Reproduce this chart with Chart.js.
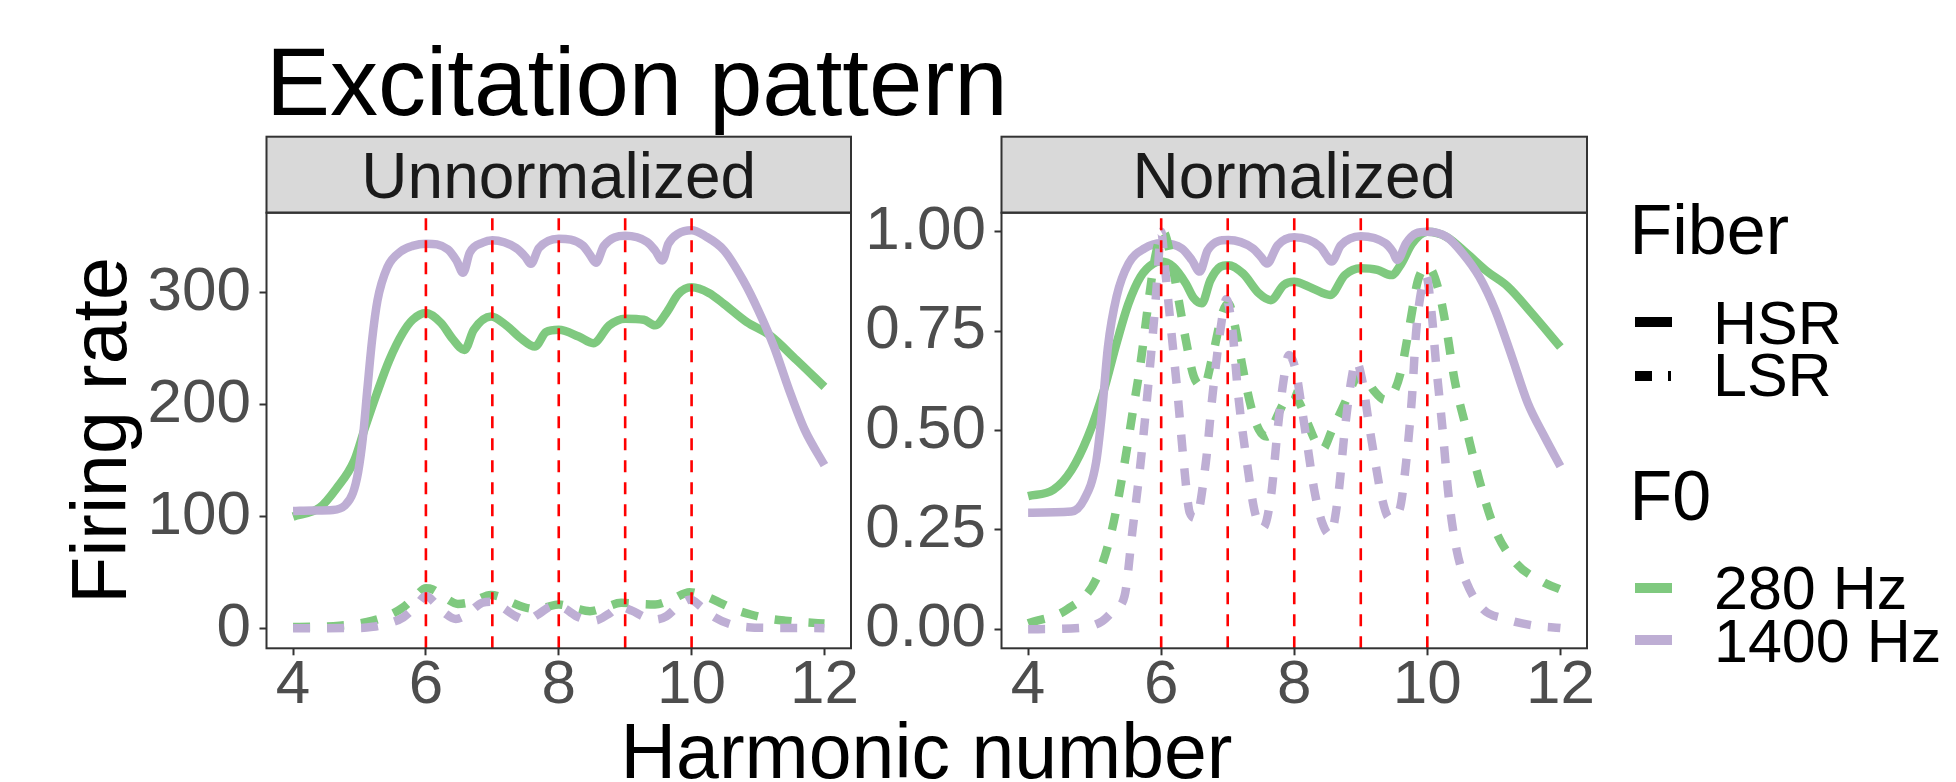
<!DOCTYPE html>
<html>
<head>
<meta charset="utf-8">
<script src="https://cdn.jsdelivr.net/npm/chart.js@4.4.1/dist/chart.umd.min.js"></script>
<style>
  body { margin: 0; background: #fff; }
  #wrap { position: relative; width: 1956px; height: 782px; overflow: hidden; font-family: "Liberation Sans", Arial, sans-serif; }
  canvas { position: absolute; top: 0; }
  .txt { position: absolute; white-space: nowrap; line-height: 1; color: #000; }
  .key { position: absolute; }
</style>
</head>
<body>
<div id="wrap">
  <canvas id="left" width="870" height="782" style="left:0"></canvas>
  <canvas id="right" width="740" height="782" style="left:860px"></canvas>

  <div class="txt" style="left:266px;top:33.7px;font-size:96px">Excitation pattern</div>
  <div class="txt" style="left:266px;width:1321px;text-align:center;top:713px;font-size:77px">Harmonic number</div>

  <div class="txt" style="left:1629.5px;top:194.7px;font-size:70px">Fiber</div>
  <div class="key" style="left:1635px;top:317px;width:37px;height:10px;background:#000"></div>
  <div class="txt" style="left:1713px;top:293.4px;font-size:61px">HSR</div>
  <div class="key" style="left:1635px;top:370.7px;width:17px;height:10px;background:#000"></div>
  <div class="key" style="left:1668px;top:370.7px;width:2.5px;height:10px;background:#000"></div>
  <div class="txt" style="left:1713px;top:345.4px;font-size:61px">LSR</div>

  <div class="txt" style="left:1629.5px;top:460.7px;font-size:70px">F0</div>
  <div class="key" style="left:1635px;top:583.3px;width:37px;height:9.5px;background:#7fc97f"></div>
  <div class="txt" style="left:1714px;top:558.4px;font-size:61px">280 Hz</div>
  <div class="key" style="left:1635px;top:635px;width:37px;height:9.5px;background:#beaed4"></div>
  <div class="txt" style="left:1714px;top:611.4px;font-size:61px">1400 Hz</div>
</div>

<script>
"use strict";

// ---- data ----
const harmonicTicks = [4, 6, 8, 10, 12];
const harmonicTickLabels = ['4', '6', '8', '10', '12'];
const harmonicMarks = [6, 7, 8, 9, 10];

const rawTicks = [0, 100, 200, 300];
const rawTickLabels = ['0', '100', '200', '300'];
const normTicks = [0, 0.25, 0.5, 0.75, 1];
const normTickLabels = ['0.00', '0.25', '0.50', '0.75', '1.00'];

// Unnormalized
const rawHsr280X = [4.0, 4.4, 4.65, 4.92, 5.08, 5.26, 5.45, 5.65, 5.8, 6.0, 6.23, 6.4, 6.58, 6.72, 6.98, 7.21, 7.44, 7.64, 7.81, 8.0, 8.3, 8.52, 8.76, 9.0, 9.28, 9.45, 9.63, 9.8, 10.0, 10.26, 10.49, 10.83, 11.18, 11.58, 12.0];
const rawHsr280Y = [100, 108, 125, 150, 179, 210, 240, 264, 276, 282, 273, 259, 249, 267, 279, 271, 259, 252, 265, 267, 261, 255, 271, 277, 276, 271, 283, 299, 305, 300, 290, 274, 262, 240, 216];

const rawHsr1400X = [4.0, 4.3, 4.6, 4.78, 4.9, 4.98, 5.05, 5.12, 5.19, 5.27, 5.42, 5.62, 5.8, 6.0, 6.33, 6.46, 6.56, 6.66, 6.86, 7.0, 7.36, 7.5, 7.58, 7.7, 8.0, 8.36, 8.47, 8.56, 8.68, 9.0, 9.33, 9.45, 9.56, 9.65, 9.8, 10.0, 10.2, 10.49, 10.78, 11.0, 11.24, 11.47, 11.7, 12.0];
const rawHsr1400Y = [105, 105.5, 106, 110, 121, 140, 170, 215, 258, 293, 323, 337, 342, 344, 339, 329, 318, 336, 345, 347, 340, 332, 326, 340, 348.5, 342.5, 334, 327, 342, 351, 345.5, 338, 329, 344, 353, 356, 351, 338, 311, 285, 252, 213, 178, 146];

const rawLsr280X = [4.0, 4.3, 4.7, 5.0, 5.2, 5.45, 5.66, 5.85, 6.0, 6.1, 6.3, 6.48, 6.7, 6.98, 7.13, 7.3, 7.48, 7.63, 7.8, 8.0, 8.25, 8.47, 8.7, 8.94, 9.2, 9.45, 9.7, 9.97, 10.2, 10.43, 10.65, 10.89, 11.15, 11.41, 11.7, 12.0];
const rawLsr280Y = [1.4, 1.5, 2.5, 4.5, 7, 12, 19, 29, 36, 35, 27, 22, 24, 30, 28, 23, 19, 17.5, 19, 21.5, 18, 15.5, 19, 23, 22, 21.5, 26, 32.5, 29, 23, 17, 12.5, 9, 7, 5.5, 4.5];

const rawLsr1400X = [4.0, 5.0, 5.2, 5.4, 5.66, 5.85, 6.0, 6.15, 6.3, 6.45, 6.6, 6.85, 7.0, 7.15, 7.35, 7.52, 7.7, 7.9, 8.05, 8.3, 8.54, 8.75, 8.92, 9.1, 9.3, 9.45, 9.62, 9.8, 9.98, 10.15, 10.35, 10.6, 10.85, 11.2, 12.0];
const rawLsr1400Y = [0.3, 0.5, 1.5, 4, 10, 20, 29, 22, 13, 8.5, 12, 23, 24, 19, 11, 7.5, 13, 20, 19, 10, 7, 13, 19.5, 16, 10, 8, 11, 20, 26, 19, 10, 3.5, 1.2, 0.6, 0.3];

// Normalized
const normHsr280X = [4.0, 4.38, 4.65, 4.9, 5.14, 5.33, 5.51, 5.69, 5.88, 6.0, 6.18, 6.37, 6.49, 6.61, 6.74, 6.89, 7.01, 7.23, 7.47, 7.65, 7.84, 8.0, 8.27, 8.54, 8.76, 9.0, 9.25, 9.46, 9.61, 9.77, 10.0, 10.29, 10.59, 10.9, 11.21, 11.57, 12.0];
const normHsr280Y = [0.335, 0.351, 0.40, 0.485, 0.602, 0.72, 0.82, 0.887, 0.92, 0.925, 0.912, 0.87, 0.833, 0.82, 0.878, 0.912, 0.916, 0.895, 0.845, 0.828, 0.866, 0.874, 0.858, 0.841, 0.891, 0.908, 0.904, 0.891, 0.92, 0.97, 1.0, 0.987, 0.946, 0.9, 0.862, 0.795, 0.71];

const normHsr1400X = [4.0, 4.65, 4.84, 5.02, 5.11, 5.2, 5.33, 5.51, 5.75, 6.0, 6.31, 6.46, 6.58, 6.7, 7.01, 7.38, 7.5, 7.59, 7.75, 8.0, 8.39, 8.48, 8.56, 8.7, 9.0, 9.37, 9.48, 9.55, 9.68, 9.83, 10.0, 10.29, 10.53, 10.78, 11.02, 11.27, 11.51, 11.76, 12.0];
const normHsr1400Y = [0.293, 0.296, 0.326, 0.418, 0.544, 0.711, 0.837, 0.92, 0.958, 0.971, 0.958, 0.929, 0.9, 0.954, 0.979, 0.958, 0.937, 0.92, 0.966, 0.986, 0.962, 0.941, 0.925, 0.966, 0.989, 0.971, 0.95, 0.929, 0.971, 0.996, 1.0, 0.987, 0.946, 0.887, 0.803, 0.686, 0.569, 0.485, 0.41];

const normLsr280X = [4.0, 4.59, 5.02, 5.26, 5.45, 5.57, 5.69, 5.82, 5.91, 6.03, 6.18, 6.28, 6.37, 6.49, 6.64, 6.77, 6.92, 7.01, 7.1, 7.23, 7.35, 7.47, 7.59, 7.72, 7.84, 7.96, 8.08, 8.2, 8.33, 8.42, 8.57, 8.76, 8.91, 9.03, 9.19, 9.37, 9.49, 9.61, 9.74, 9.86, 10.01, 10.17, 10.29, 10.41, 10.59, 10.78, 11.02, 11.33, 11.76, 12.0];
const normLsr280Y = [0.015, 0.05, 0.125, 0.25, 0.418, 0.544, 0.669, 0.837, 0.937, 1.0, 0.904, 0.812, 0.728, 0.636, 0.611, 0.686, 0.795, 0.82, 0.77, 0.653, 0.56, 0.502, 0.485, 0.527, 0.569, 0.594, 0.569, 0.519, 0.469, 0.452, 0.502, 0.569, 0.627, 0.644, 0.602, 0.577, 0.594, 0.653, 0.77, 0.878, 0.912, 0.853, 0.753, 0.627, 0.502, 0.376, 0.25, 0.167, 0.117, 0.1];

const normLsr1400X = [4.0, 4.77, 5.11, 5.3, 5.45, 5.57, 5.69, 5.79, 5.88, 5.94, 6.0, 6.06, 6.15, 6.25, 6.34, 6.43, 6.52, 6.67, 6.77, 6.89, 6.98, 7.07, 7.16, 7.29, 7.41, 7.53, 7.65, 7.75, 7.84, 7.92, 8.02, 8.11, 8.2, 8.3, 8.42, 8.54, 8.66, 8.76, 8.85, 8.93, 9.03, 9.12, 9.22, 9.31, 9.43, 9.58, 9.68, 9.77, 9.83, 9.92, 9.98, 10.07, 10.13, 10.23, 10.32, 10.44, 10.59, 10.84, 11.15, 11.57, 12.0];
const normLsr1400Y = [0.0, 0.003, 0.02, 0.05, 0.084, 0.25, 0.418, 0.586, 0.753, 0.878, 1.0, 0.904, 0.753, 0.586, 0.418, 0.293, 0.28, 0.418, 0.586, 0.753, 0.83, 0.753, 0.586, 0.418, 0.293, 0.255, 0.335, 0.502, 0.627, 0.69, 0.653, 0.56, 0.46, 0.351, 0.268, 0.238, 0.335, 0.502, 0.619, 0.675, 0.619, 0.519, 0.418, 0.335, 0.28, 0.30, 0.418, 0.586, 0.745, 0.862, 0.89, 0.786, 0.67, 0.502, 0.335, 0.2, 0.117, 0.05, 0.027, 0.01, 0.003];

// ---- styling ----
const GREEN = '#7fc97f';
const PURPLE = '#beaed4';
const FONT = '"Liberation Sans", Arial, sans-serif';
const STRIP_TOP = 136.7;
const AREA_TOP = 212.7;
const AREA_BOTTOM = 648.3;

Chart.defaults.font.family = FONT;

// strip label, panel border and the red harmonic markers
const panelDeco = {
  id: 'panelDeco',
  afterDatasetsDraw(chart) {
    const {ctx, chartArea: a, scales: {x}} = chart;
    ctx.save();
    ctx.strokeStyle = '#ff0000';
    ctx.lineWidth = 2.6;
    ctx.setLineDash([12, 10]);
    harmonicMarks.forEach(h => {
      const px = x.getPixelForValue(h);
      ctx.beginPath();
      ctx.moveTo(px, a.bottom);
      ctx.lineTo(px, a.top);
      ctx.stroke();
    });
    ctx.restore();
  },
  afterDraw(chart, args, opts) {
    const {ctx, chartArea: a} = chart;
    ctx.save();
    ctx.fillStyle = '#d9d9d9';
    ctx.fillRect(a.left, STRIP_TOP, a.right - a.left, a.top - STRIP_TOP);
    ctx.strokeStyle = '#333333';
    ctx.lineWidth = 2;
    ctx.strokeRect(a.left, STRIP_TOP, a.right - a.left, a.top - STRIP_TOP);
    ctx.strokeRect(a.left, a.top, a.right - a.left, a.bottom - a.top);
    ctx.fillStyle = '#1a1a1a';
    ctx.font = '64px ' + FONT;
    ctx.textAlign = 'center';
    ctx.textBaseline = 'alphabetic';
    ctx.fillText(opts.label, (a.left + a.right) / 2, 198.3);
    ctx.restore();
  }
};

function line(xs, ys, color, dashed) {
  return {
    data: xs.map((x, i) => ({x: x, y: ys[i]})),
    borderColor: color,
    borderWidth: 8.5,
    borderDash: dashed ? [17, 17] : [],
    borderCapStyle: 'butt',
    borderJoinStyle: 'round',
    pointRadius: 0,
    cubicInterpolationMode: 'monotone',
    fill: false
  };
}

function makePanel(id, o) {
  return new Chart(document.getElementById(id), {
    type: 'line',
    data: {
      // first dataset is drawn on top
      datasets: [
        line(o.lsr1400[0], o.lsr1400[1], PURPLE, true),
        line(o.lsr280[0], o.lsr280[1], GREEN, true),
        line(o.hsr1400[0], o.hsr1400[1], PURPLE, false),
        line(o.hsr280[0], o.hsr280[1], GREEN, false)
      ]
    },
    options: {
      responsive: false,
      animation: false,
      layout: { padding: { top: AREA_TOP, right: o.padRight, bottom: 0, left: 0 } },
      plugins: {
        legend: { display: false },
        tooltip: { enabled: false },
        panelDeco: { label: o.label }
      },
      scales: {
        x: {
          type: 'linear',
          min: 3.6,
          max: 12.4,
          afterBuildTicks: s => { s.ticks = harmonicTicks.map(v => ({value: v})); },
          afterFit: s => { s.height = 782 - AREA_BOTTOM; },
          grid: { drawOnChartArea: false, drawTicks: true, tickLength: 7, tickColor: '#333333', tickWidth: 2 },
          border: { display: false },
          ticks: {
            color: '#4d4d4d',
            font: { size: 62, lineHeight: 1 },
            padding: 0,
            maxRotation: 0,
            autoSkip: false,
            callback: (v, i) => harmonicTickLabels[i]
          }
        },
        y: {
          type: 'linear',
          min: o.yMin,
          max: o.yMax,
          afterBuildTicks: s => { s.ticks = o.yTicks.map(v => ({value: v})); },
          afterFit: s => { s.width = o.yWidth; },
          grid: { drawOnChartArea: false, drawTicks: true, tickLength: 7, tickColor: '#333333', tickWidth: 2 },
          border: { display: false },
          ticks: {
            color: '#4d4d4d',
            font: { size: 62, lineHeight: 1 },
            padding: 8.5,
            autoSkip: false,
            callback: (v, i) => o.yTickLabels[i]
          },
          title: {
            display: !!o.yTitle,
            text: o.yTitle || '',
            color: '#000',
            font: { size: 77, lineHeight: 1.2 },
            padding: { top: 59, bottom: 0 }
          }
        }
      }
    },
    plugins: [panelDeco]
  });
}

makePanel('left', {
  label: 'Unnormalized',
  hsr280: [rawHsr280X, rawHsr280Y],
  hsr1400: [rawHsr1400X, rawHsr1400Y],
  lsr280: [rawLsr280X, rawLsr280Y],
  lsr1400: [rawLsr1400X, rawLsr1400Y],
  yMin: -17.7, yMax: 371.7,
  yTicks: rawTicks, yTickLabels: rawTickLabels,
  yWidth: 266.5, padRight: 19,
  yTitle: 'Firing rate'
});

makePanel('right', {
  label: 'Normalized',
  hsr280: [normHsr280X, normHsr280Y],
  hsr1400: [normHsr1400X, normHsr1400Y],
  lsr280: [normLsr280X, normLsr280Y],
  lsr1400: [normLsr1400X, normLsr1400Y],
  yMin: -0.048, yMax: 1.048,
  yTicks: normTicks, yTickLabels: normTickLabels,
  yWidth: 141.5, padRight: 13,
  yTitle: null
});
</script>
</body>
</html>
